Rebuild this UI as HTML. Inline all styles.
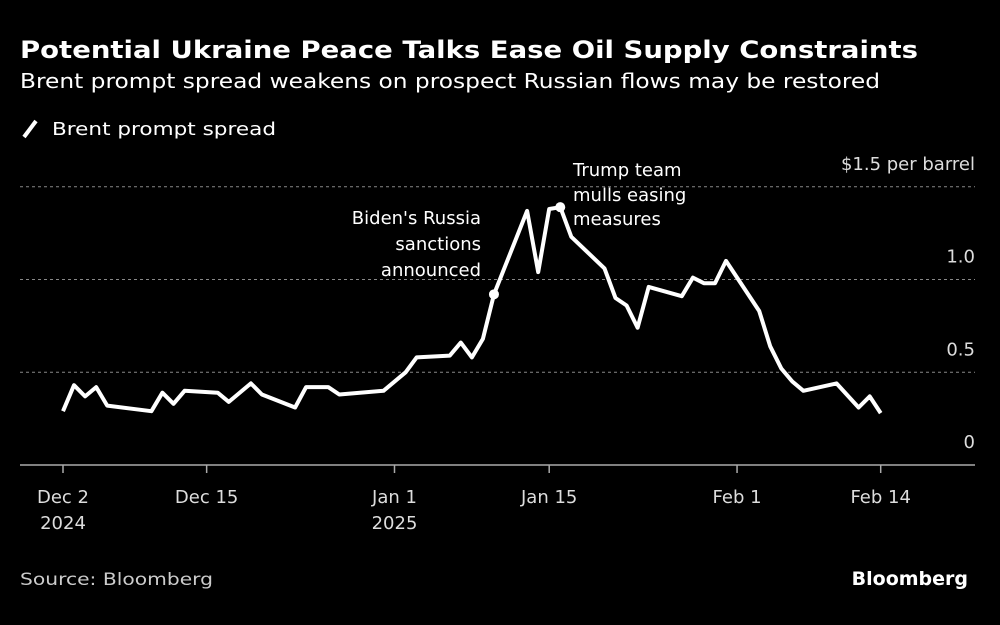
<!DOCTYPE html>
<html><head><meta charset="utf-8"><style>
body{margin:0;background:#000;width:1000px;height:625px;overflow:hidden;font-family:"DejaVu Sans","Liberation Sans",sans-serif;color:#fff}
svg text{font-family:"DejaVu Sans","Liberation Sans",sans-serif}
</style></head><body>
<svg width="1000" height="625" style="position:absolute;left:0;top:0">
<text x="20" y="58" font-size="24" font-weight="bold" fill="#fff" textLength="898" lengthAdjust="spacingAndGlyphs">Potential Ukraine Peace Talks Ease Oil Supply Constraints</text>
<text x="20" y="88" font-size="20" fill="#fff" textLength="860" lengthAdjust="spacingAndGlyphs">Brent prompt spread weakens on prospect Russian flows may be restored</text>
<line x1="24" y1="137" x2="36" y2="121" stroke="#fff" stroke-width="4"/>
<text x="52" y="135" font-size="18" fill="#fff" textLength="224" lengthAdjust="spacingAndGlyphs">Brent prompt spread</text>
<g id="grid"></g>
<g id="xaxis"></g>
<path id="line" fill="none" stroke="#fff" stroke-width="4" stroke-linejoin="round"/>
<g id="dots"></g>
<text font-size="18" fill="#fff" text-anchor="end"><tspan x="481" y="224">Biden's Russia</tspan><tspan x="481" y="250">sanctions</tspan><tspan x="481" y="276">announced</tspan></text>
<text font-size="18" fill="#fff"><tspan x="573" y="176">Trump team</tspan><tspan x="573" y="201">mulls easing</tspan><tspan x="573" y="225">measures</tspan></text>
<text x="20" y="585" font-size="17" fill="#ccc" textLength="193" lengthAdjust="spacingAndGlyphs">Source: Bloomberg</text>
<text x="968" y="585" font-size="19" font-weight="bold" fill="#fff" text-anchor="end">Bloomberg</text>
</svg>
<script>
const days=[0,1,2,3,4,8,9,10,11,14,15,17,18,21,22,24,25,29,31,32,35,36,37,38,39,42,43,44,45,46,49,50,51,52,53,56,57,58,59,60,63,64,65,66,67,70,72,73,74];
const values=[0.29,0.43,0.37,0.42,0.32,0.29,0.39,0.33,0.40,0.39,0.34,0.44,0.38,0.31,0.42,0.42,0.38,0.40,0.50,0.58,0.59,0.66,0.58,0.68,0.92,1.37,1.04,1.38,1.39,1.23,1.06,0.90,0.86,0.74,0.96,0.91,1.01,0.98,0.98,1.10,0.83,0.64,0.52,0.45,0.40,0.44,0.31,0.37,0.28];
const yTicks=[0,0.5,1.0,1.5];
const yTickLabels=["0","0.5","1.0","$1.5 per barrel"];
const xTickDays=[0,13,30,44,61,74];
const xTickLabels=[["Dec 2","2024"],["Dec 15"],["Jan 1","2025"],["Jan 15"],["Feb 1"],["Feb 14"]];
const markedDays=[39,45];
const NS="http://www.w3.org/2000/svg";
const X=d=>63+d*11.05, Y=v=>465-v*185.5;
function mk(t,a,p){const e=document.createElementNS(NS,t);for(const k in a)e.setAttribute(k,a[k]);p.appendChild(e);return e;}
const grid=document.getElementById('grid');
yTicks.forEach((v,i)=>{
 if(v>0){const l=mk('line',{x1:20,x2:975,y1:Y(v),y2:Y(v),stroke:'#888','stroke-width':1,'stroke-dasharray':'3,3'},grid);
 
 }
 const t=mk('text',{x:975,y:Y(v)-17,'font-size':18,fill:'#ddd','text-anchor':'end'},grid);
 t.textContent=yTickLabels[i];
 
 
});
const xa=document.getElementById('xaxis');
const base=mk('line',{x1:20,x2:975,y1:465,y2:465,stroke:'#aaa','stroke-width':1.5},xa);


xTickDays.forEach((d,i)=>{
 const tk=mk('line',{x1:X(d),x2:X(d),y1:465,y2:473,stroke:'#aaa','stroke-width':1.5},xa);
 
 
 xTickLabels[i].forEach((s,j)=>{
  const t=mk('text',{x:X(d),y:503+j*26,'font-size':18,fill:'#ddd','text-anchor':'middle'},xa);
  t.textContent=s;
  
  
 });
});
document.getElementById('line').setAttribute('d',days.map((d,i)=>(i?'L':'M')+X(d).toFixed(1)+','+Y(values[i]).toFixed(1)).join(''));
const dots=document.getElementById('dots');
markedDays.forEach(d=>{const i=days.indexOf(d);
 const c=mk('circle',{cx:X(d),cy:Y(values[i]),r:5,fill:'#fff'},dots);
 
 
});
</script>
</body></html>
